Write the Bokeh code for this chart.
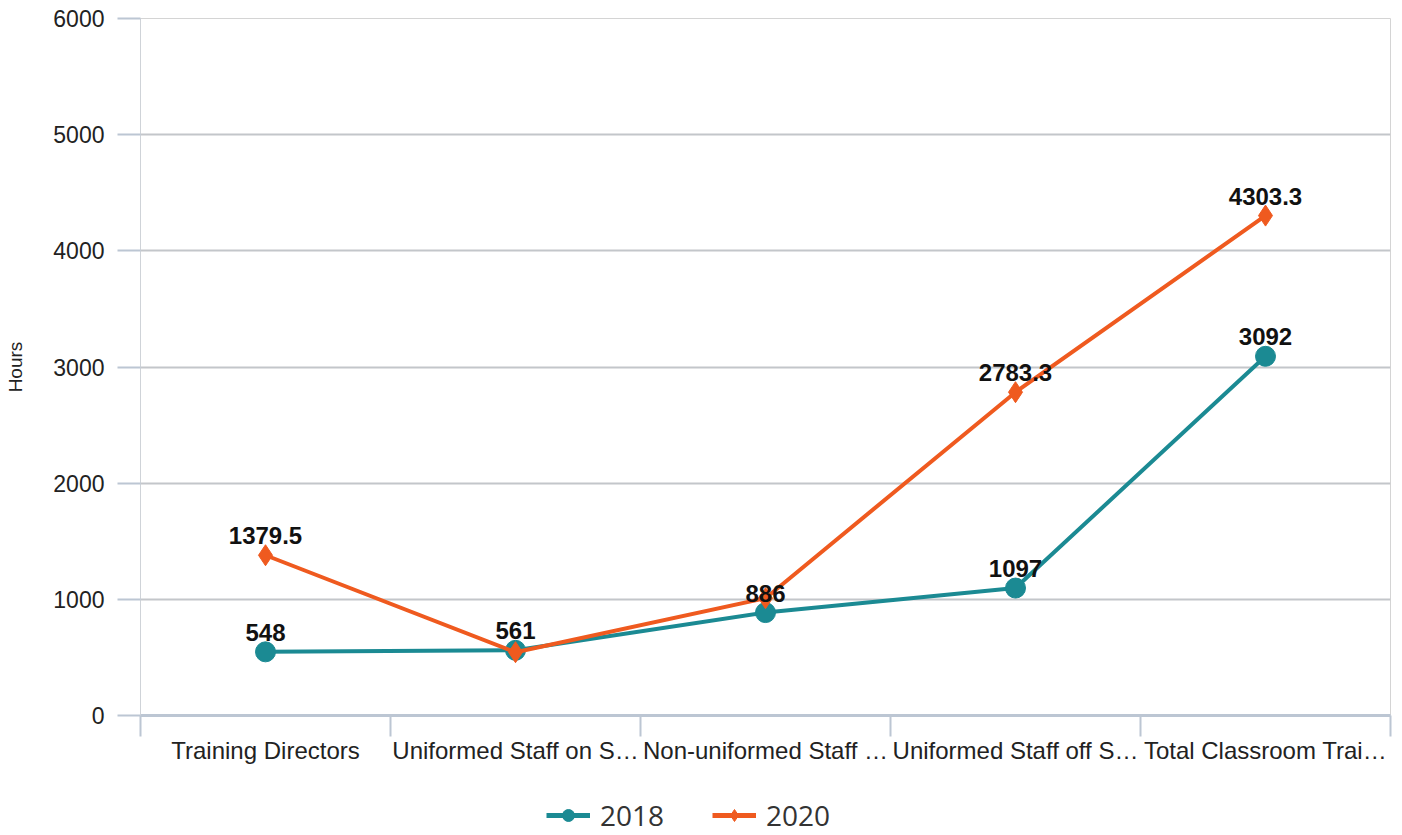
from bokeh.plotting import figure
from bokeh.layouts import column
from bokeh.models import (Range1d, LinearAxis, FixedTicker, Legend, LegendItem,
                          ColumnDataSource, LabelSet, Grid)
from bokeh.embed import file_html
from bokeh.resources import INLINE
from bokeh.core.properties import value

categories = ["Training Directors", "Uniformed Staff on S\u2026", "Non-uniformed Staff \u2026",
              "Uniformed Staff off S\u2026", "Total Classroom Trai\u2026"]
series_2018 = [548, 561, 886, 1097, 3092]
series_2020 = [1379.5, 545, 1010, 2783.3, 4303.3]
labels_2018 = ["548", "561", "886", "1097", "3092"]
labels_2020 = ["1379.5", "", "", "2783.3", "4303.3"]
y_ticks = [0, 1000, 2000, 3000, 4000, 5000, 6000]

TEAL = "#1b8a93"
ORANGE = "#ef5a1f"

n = len(categories)
centers = [i + 0.5 for i in range(n)]
bounds = [i for i in range(n + 1)]

p = figure(frame_width=1250, frame_height=697, x_range=Range1d(0, n), y_range=Range1d(0, 6000),
           output_backend="svg", toolbar_location=None,
           x_axis_location=None, y_axis_location=None,
           min_border_top=18, min_border_right=4, min_border_left=140, min_border_bottom=0)
p.center = [r for r in p.center if not isinstance(r, Grid)]
p.outline_line_color = "#d4d4d4"
p.outline_line_width = 1

# y axis
yaxis = LinearAxis(ticker=FixedTicker(ticks=y_ticks), axis_label="Hours")
yaxis.axis_line_color = "#cfd3d8"
yaxis.axis_line_width = 1
yaxis.major_tick_out = 23
yaxis.major_tick_in = 0
yaxis.major_tick_line_color = "#bcc6d3"
yaxis.major_tick_line_width = 2
yaxis.minor_tick_line_color = None
yaxis.major_label_text_font = "Liberation Sans"
yaxis.major_label_text_font_size = "23px"
yaxis.major_label_text_color = "#222222"
yaxis.major_label_standoff = 13
yaxis.axis_label_text_font = "Liberation Sans"
yaxis.axis_label_text_font_style = "normal"
yaxis.axis_label_text_font_size = "19px"
yaxis.axis_label_text_color = "#222222"
yaxis.axis_label_standoff = 24
p.add_layout(yaxis, "left")

grid = Grid(dimension=1, ticker=FixedTicker(ticks=y_ticks))
grid.grid_line_color = "#c3c6ca"
grid.grid_line_width = 2
p.add_layout(grid)

# x axis: boundary ticks
xtick_axis = LinearAxis(ticker=FixedTicker(ticks=bounds))
xtick_axis.major_label_overrides = {b: "" for b in bounds}
xtick_axis.major_label_text_font_size = "0px"
xtick_axis.major_label_standoff = 0
xtick_axis.axis_line_color = "#bcc6d3"
xtick_axis.axis_line_width = 3
xtick_axis.major_tick_out = 21
xtick_axis.major_tick_in = 0
xtick_axis.major_tick_line_color = "#bcc6d3"
xtick_axis.major_tick_line_width = 2
xtick_axis.minor_tick_line_color = None
p.add_layout(xtick_axis, "below")

# x axis: category labels
xlab_axis = LinearAxis(ticker=FixedTicker(ticks=centers))
xlab_axis.major_label_overrides = {c: cat for c, cat in zip(centers, categories)}
xlab_axis.axis_line_color = None
xlab_axis.major_tick_line_color = None
xlab_axis.minor_tick_line_color = None
xlab_axis.major_tick_out = 0
xlab_axis.major_tick_in = 0
xlab_axis.major_label_standoff = 0
xlab_axis.major_label_text_font = "Liberation Sans"
xlab_axis.major_label_text_font_size = "24px"
xlab_axis.major_label_text_color = "#222222"
p.add_layout(xlab_axis, "below")

src18 = ColumnDataSource(dict(x=centers, y=series_2018, lab=labels_2018))
src20 = ColumnDataSource(dict(x=centers, y=series_2020, lab=labels_2020))

p.line("x", "y", source=src18, line_color=TEAL, line_width=4)
p.scatter("x", "y", source=src18, marker="circle", size=20, fill_color=TEAL, line_color=TEAL)
p.line("x", "y", source=src20, line_color=ORANGE, line_width=4)
p.scatter("x", "y", source=src20, marker="diamond", size=21, fill_color=ORANGE, line_color=ORANGE)

for src in (src18, src20):
    ls = LabelSet(x="x", y="y", text="lab", source=src, y_offset=11,
                  text_align="center", text_baseline="bottom",
                  text_font=value("Liberation Sans"), text_font_style="bold",
                  text_font_size="24px", text_color="#111111")
    p.add_layout(ls)

# legend strip below the chart (its own small figure; legend-only renderers hidden)
lf = figure(width=1394, height=68, x_range=Range1d(0, 1), y_range=Range1d(0, 1),
            output_backend="svg", toolbar_location=None,
            x_axis_location=None, y_axis_location=None,
            min_border=0)
lf.center = [r for r in lf.center if not isinstance(r, Grid)]
lf.outline_line_color = None
kl18 = lf.line("x", "y", source=src18, line_color=TEAL, line_width=5, visible=False)
ks18 = lf.scatter("x", "y", source=src18, marker="circle", size=18, fill_color=TEAL, line_color=TEAL, visible=False)
kl20 = lf.line("x", "y", source=src20, line_color=ORANGE, line_width=5, visible=False)
ks20 = lf.scatter("x", "y", source=src20, marker="diamond", size=19, fill_color=ORANGE, line_color=ORANGE, visible=False)

legend = Legend(items=[LegendItem(label="2018", renderers=[kl18, ks18]),
                       LegendItem(label="2020", renderers=[kl20, ks20])],
                orientation="horizontal", location=(406, 0))
legend.label_text_font = "Open Sans"
legend.label_text_font_size = "28px"
legend.label_text_color = "#333333"
legend.glyph_width = 44
legend.glyph_height = 30
legend.spacing = 48
legend.border_line_color = None
legend.background_fill_alpha = 0
legend.inactive_fill_alpha = 0
legend.margin = 0
legend.padding = 0
legend.label_standoff = 10
lf.add_layout(legend)

layout = column(p, lf, spacing=0)
open("out.html", "w").write(file_html(layout, INLINE))
